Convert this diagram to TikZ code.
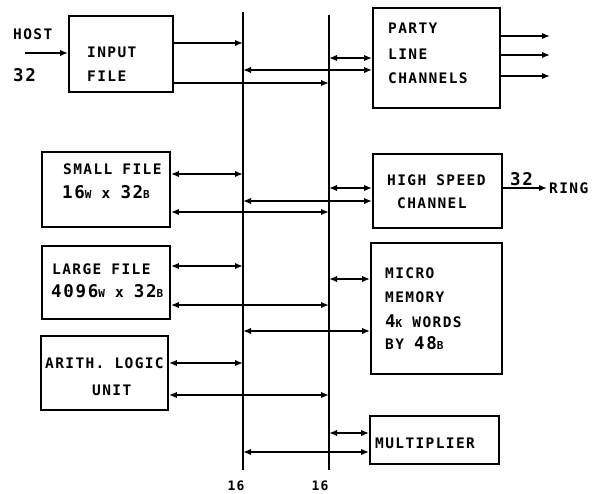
\documentclass[tikz,border=0pt]{standalone}
\usepackage{fontspec}
\newfontfamily\lblf[LetterSpace=9.5]{DejaVu Sans Mono}
\usetikzlibrary{arrows.meta}
\newcommand\mysm[1]{{\fontsize{11}{11}\selectfont #1}}
\newcommand\mybig[1]{{\fontsize{17.5}{17.5}\selectfont #1}}
\begin{document}
\begin{tikzpicture}[x=1pt,y=-1pt,
  box/.style={draw,line width=1.9pt,inner sep=0pt},
  con/.style={line width=1.7pt},
  tip/.tip={Latex[length=8pt,width=6.5pt]},
  arr/.style={con,-tip},
  darr/.style={con,tip-tip},
  bus/.style={line width=1.9pt},
  lbl/.style={inner sep=0pt,anchor=west,font=\lblf\bfseries\fontsize{14.5}{17}\selectfont},
  clbl/.style={lbl,anchor=center},
]
\useasboundingbox (0,0) rectangle (592,493);

% boxes
\node[box,minimum width=104pt,minimum height=76pt] (input) at (121,54) {};
\node[box,minimum width=127pt,minimum height=100pt] (party) at (436.5,58) {};
\node[box,minimum width=128pt,minimum height=75pt] (small) at (106,189.5) {};
\node[box,minimum width=129pt,minimum height=74pt] (hsc) at (437.5,191) {};
\node[box,minimum width=128pt,minimum height=73pt] (large) at (106,282.5) {};
\node[box,minimum width=131pt,minimum height=131pt] (mm) at (436.5,308.5) {};
\node[box,minimum width=127pt,minimum height=74pt] (alu) at (104.5,373) {};
\node[box,minimum width=129pt,minimum height=48pt] (mult) at (434.5,440) {};

% buses
\coordinate (b1t) at (243,12);
\coordinate (b1b) at (243,470);
\coordinate (b2t) at (329,15);
\coordinate (b2b) at (329,470);
\draw[bus] (b1t) -- (b1b);
\draw[bus] (b2t) -- (b2b);

% free ends
\coordinate (host) at (25,53);
\coordinate (p1) at (550,36);
\coordinate (p2) at (550,55);
\coordinate (p3) at (550,76);
\coordinate (ring) at (547,188);

% connectors
\draw[arr] (host) -- (input.west |- host);
\draw[arr] (input.east |- 0,43) -- (b1t |- 0,43);
\draw[darr] (b2t |- 0,58) -- (party.west |- 0,58);
\draw[darr] (b1t |- 0,70) -- (party.west |- 0,70);
\draw[arr] (input.east |- 0,83) -- (b2t |- 0,83);
\draw[arr] (party.east |- p1) -- (p1);
\draw[arr] (party.east |- p2) -- (p2);
\draw[arr] (party.east |- p3) -- (p3);

\draw[darr] (small.east |- 0,174) -- (b1t |- 0,174);
\draw[darr] (b2t |- 0,188) -- (hsc.west |- 0,188);
\draw[darr] (b1t |- 0,201) -- (hsc.west |- 0,201);
\draw[darr] (small.east |- 0,212) -- (b2t |- 0,212);
\draw[arr] (hsc.east |- ring) -- (ring);

\draw[darr] (large.east |- 0,266) -- (b1t |- 0,266);
\draw[darr] (b2t |- 0,279) -- (mm.west |- 0,279);
\draw[darr] (large.east |- 0,305) -- (b2t |- 0,305);
\draw[darr] (b1t |- 0,331) -- (mm.west |- 0,331);

\draw[darr] (alu.east |- 0,363) -- (b1t |- 0,363);
\draw[darr] (alu.east |- 0,395) -- (b2t |- 0,395);
\draw[darr] (b2t |- 0,433) -- (mult.west |- 0,433);
\draw[darr] (b1t |- 0,452) -- (mult.west |- 0,452);

% labels
\node[lbl] (thost) at (13,34) {HOST};
\node[lbl] (thostw) at (13,75) {\mybig{32}};
\node[lbl] (tin1) at (87,52) {INPUT};
\node[lbl] (tin2) at (87,76) {FILE};
\node[lbl] (tp1) at (388,28) {PARTY};
\node[lbl] (tp2) at (388,54) {LINE};
\node[lbl] (tp3) at (388,78) {CHANNELS};
\node[lbl] (ts1) at (63,169) {SMALL FILE};
\node[lbl] (ts2) at (62,192) {\mybig{16}\mysm{W} x \mybig{32}\mysm{B}};
\node[lbl] (tl1) at (52,269) {LARGE FILE};
\node[lbl] (tl2) at (51,291) {\mybig{4096}\mysm{W} x \mybig{32}\mysm{B}};
\node[lbl] (ta1) at (45,363) {ARITH. LOGIC};
\node[lbl] (ta2) at (92,390) {UNIT};
\node[lbl] (th1) at (387,180) {HIGH SPEED};
\node[lbl] (th2) at (397,203) {CHANNEL};
\node[lbl] (tm1) at (385,273) {MICRO};
\node[lbl] (tm2) at (385,297) {MEMORY};
\node[lbl] (tm3) at (385,321) {\mybig{4}\mysm{K} WORDS};
\node[lbl] (tm4) at (385,343) {BY \mybig{48}\mysm{B}};
\node[lbl] (tmu) at (375,443) {MULTIPLIER};
\node[lbl] (tr32) at (510,179) {\mybig{32}};
\node[lbl] (tring) at (549,188) {RING};
\node[clbl,font=\lblf\bfseries\fontsize{13}{14}\selectfont] (t16a) at (236,486) {16};
\node[clbl,font=\lblf\bfseries\fontsize{13}{14}\selectfont] (t16b) at (320,486) {16};
\end{tikzpicture}
\end{document}
